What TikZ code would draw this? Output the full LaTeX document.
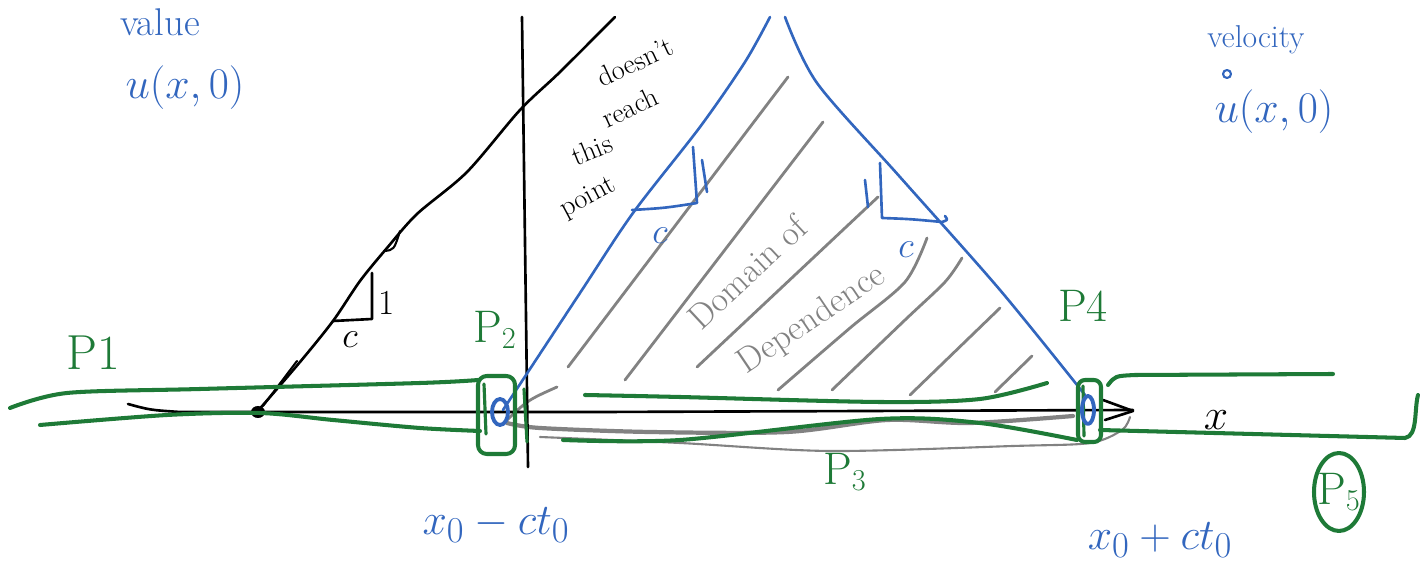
\documentclass[tikz,border=0pt]{standalone}
\usetikzlibrary{arrows.meta}
\definecolor{sblue}{RGB}{50,102,190}
\definecolor{sgreen}{RGB}{30,122,55}
\definecolor{sgray}{RGB}{130,130,130}
\tikzset{
  blk/.style={draw=black, line width=1.5pt, line cap=round, line join=round},
  grn/.style={draw=sgreen, line width=2.3pt, line cap=round, line join=round},
  blu/.style={draw=sblue, line width=1.5pt, line cap=round, line join=round},
  gry/.style={draw=sgray, line width=1.6pt, line cap=round, line join=round},
  lbl/.style={inner sep=0pt},
}
\newcommand{\fs}[1]{\fontsize{#1}{#1}\selectfont}
\begin{document}
\begin{tikzpicture}[x=0.02cm,y=-0.02cm]
\useasboundingbox (0,0) rectangle (1428,580);

% ---------- hatching (gray) ----------
\draw[gry] (568,367) -- (788,77);
\draw[gry] (625,380) -- (823,122);
\draw[gry] (697,367) -- (878,197);
\draw[gry] plot[smooth] coordinates {(778,390) (850,328) (905,282) (927,238)};
\draw[gry] plot[smooth] coordinates {(832,390) (905,320) (945,282) (962,258)};
\draw[gry] (910,395) -- (1000,308);
\draw[gry] (995,392) -- (1032,356);
% gray loop along the base
\draw[gry] (507,420) .. controls (528,400) .. (557,387);
\draw[gry, line width=2.4pt] plot[smooth] coordinates {(507,423) (540,428) (650,432) (787,432) (887,420) (970,423) (1073,416)};
\draw[gry, line width=1.2pt] plot[smooth] coordinates {(540,437) (680,443) (830,451) (1013,446) (1090,443) (1122,430) (1130,417)};

% ---------- black axes ----------
\draw[blk] (128,404) .. controls (150,410) .. (180,412) -- (600,412) -- (1133,410);
\draw[blk] (1103,400) -- (1133,411) -- (1105,420);
\draw[blk] (522,17) -- (528,467);
% characteristic from left
\draw[blk] plot[smooth] coordinates {(257,412) (300,362) (333,321) (360,281) (387,248) (417,214) (467,172) (520,110) (560,72) (615,17)};
\draw[blk, line width=1.2pt] (263,406) -- (297,361);
\draw[blk, line width=1.2pt] (384,251) .. controls (394,250) .. (400,231);
\fill[black] (258,412) ellipse (7 and 6);
\draw[blk] (333,321) -- (372,319) -- (372,273);
\node[lbl, font=\fs{20}] (one1) at (387,303) {1};
\node[lbl, font=\fs{20}] (c1) at (350,340) {$c$};

% doesn't reach this point
\node[lbl, rotate=25, font=\fs{16}] (t1) at (635,62) {doesn't};
\node[lbl, rotate=25, font=\fs{16}] (t2) at (630,107) {reach};
\node[lbl, rotate=22, font=\fs{16}] (t3) at (592,150) {this};
\node[lbl, rotate=28, font=\fs{16}] (t4) at (588,198) {point};

% ---------- blue triangle ----------
\draw[blu] plot[smooth] coordinates {(503,410) (580,293) (633,213) (700,127) (745,62) (770,17)};
\draw[blu] plot[smooth] coordinates {(785,17) (817,83) (900,177) (1000,290) (1085,395)};
\draw[blu] (632,210) .. controls (665,208) .. (697,203) -- (693,147);
\draw[blu] (702,160) -- (707,192);
\node[lbl, font=\fs{22}, text=sblue] (c2) at (660,236) {$c$};
\draw[blu] (880,163) -- (882,218) .. controls (910,219) .. (942,222) .. controls (948,220) .. (945,216);
\draw[blu] (865,180) -- (868,207);
\node[lbl, font=\fs{22}, text=sblue] (c3) at (906,250) {$c$};

% domain of dependence
\node[lbl, rotate=43, font=\fs{20}, text=sgray] (d1) at (747,272) {Domain of};
\node[lbl, rotate=34, font=\fs{20}, text=sgray] (d2) at (812,320) {Dependence};

% ---------- green ----------
% P1 band
\draw[grn] plot[smooth] coordinates {(10,408) (67,393) (200,389) (420,383) (478,380)};
\draw[grn] plot[smooth] coordinates {(40,425) (167,415) (260,413) (333,420) (420,428) (480,431)};
\node[lbl, font=\fs{28}, text=sgreen] (p1) at (93,353) {P1};
% P2 box
\draw[grn, rounded corners=5pt] (478,376) rectangle (515,454);
\draw[grn, line width=1.8pt] (484,384) -- (486,434);
\draw[grn, line width=1.8pt] (524,389) -- (527,442);
\node[lbl, font=\fs{26}, text=sgreen] (p2) at (495,330) {P$_2$};
\draw[blu, line width=2.2pt] (500,412) ellipse (8 and 13);
% P3 band
\draw[grn] plot[smooth] coordinates {(585,395) (680,397) (880,402) (980,399) (1047,383)};
\draw[grn] plot[smooth] coordinates {(563,440) (680,440) (880,419) (980,423) (1077,440)};
\node[lbl, font=\fs{26}, text=sgreen] (p3) at (845,472) {P$_3$};
% P4 box
\draw[grn, rounded corners=4pt] (1078,380) rectangle (1101,442);
\draw[grn, line width=1.8pt] (1083,386) -- (1084,436);
\node[lbl, font=\fs{26}, text=sgreen] (p4) at (1083,306) {P4};
\draw[blu, line width=2.2pt] (1088,410) ellipse (6 and 14);
% P5 band
\draw[grn] (1108,385) .. controls (1115,376) .. (1135,375) -- (1333,374);
\draw[grn] (1100,430) -- (1405,438) .. controls (1418,436) and (1414,410) .. (1418,395);
\draw[grn] (1339,492) ellipse (25 and 39);
\node[lbl, font=\fs{26}, text=sgreen] (p5) at (1339,492) {P$_5$};

% axis label
\node[lbl, font=\fs{40}] (xl) at (1216,420) {$x$};

% ---------- blue texts ----------
\node[lbl, font=\fs{22}, text=sblue] (val) at (160,22) {value};
\node[lbl, font=\fs{24}, text=sblue] (u0) at (185,88) {$u(x,0)$};
\node[lbl, font=\fs{18}, text=sblue] (vel) at (1256,40) {velocity};
\node[lbl, font=\fs{26}, text=sblue] (ud0) at (1274,112) {$u(x,0)$};
\draw[blu, line width=1.2pt] (1227,74) circle (4);
\node[lbl, font=\fs{30}, text=sblue] (xm) at (496,525) {$x_0-ct_0$};
\node[lbl, font=\fs{30}, text=sblue] (xp) at (1160,540) {$x_0+ct_0$};
\end{tikzpicture}
\end{document}
